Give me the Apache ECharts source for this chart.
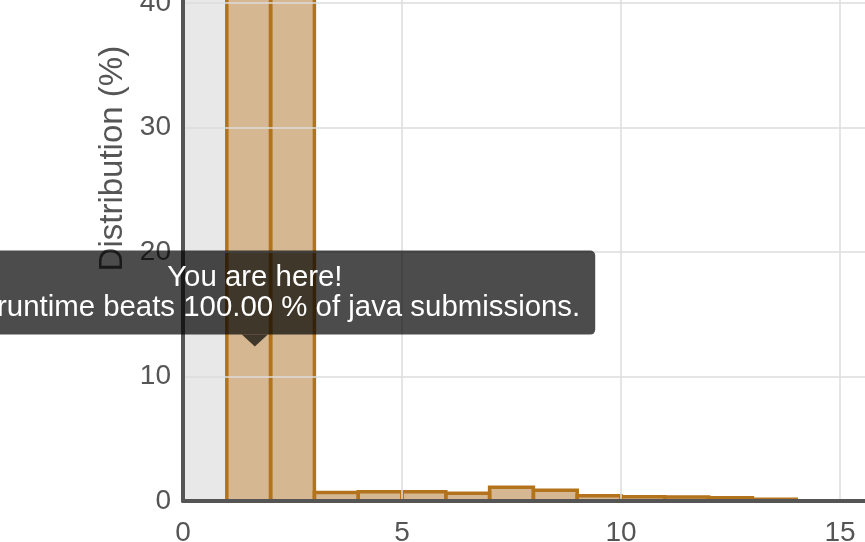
<!DOCTYPE html>
<html><head><meta charset="utf-8">
<script src="https://cdn.jsdelivr.net/npm/echarts@6/dist/echarts.min.js"></script>
<style>html,body{margin:0;padding:0;background:#fff;overflow:hidden}#c{width:865px;height:542px}</style>
</head><body><div id="c"></div>
<script>
// ---- data ----
const binStarts = [1, 2, 3, 4, 5, 6, 7, 8, 9, 10, 11, 12, 13];
const binWidth = 1;
const distribution = [52.0, 47.0, 0.68, 0.74, 0.74, 0.63, 1.1, 0.87, 0.42, 0.34, 0.33, 0.26, 0.14];
const xRange = [0, 20];
const xInterval = 5;
const yRange = [0, 55];
const yInterval = 10;
const highlightRange = [0, 1];
const youAreHere = [1.64, 12.4];
const tooltipLines = ['You are here!', 'Your runtime beats 100.00 % of java submissions.'];
const yAxisName = 'Distribution (%)';

// ---- chart ----
const FONT = '"Liberation Sans", Arial, Helvetica, sans-serif';
const chart = echarts.init(document.getElementById('c'), null, {renderer: 'canvas'});
const binData = binStarts.map((s, i) => [s, s + binWidth, distribution[i]]);

chart.setOption({
  animation: false,
  backgroundColor: '#fff',
  textStyle: {fontFamily: FONT},
  grid: {left: 183, right: -194, top: -183.75, bottom: 41, containLabel: false, outerBoundsMode: 'none'},
  xAxis: {
    type: 'value', min: xRange[0], max: xRange[1], interval: xInterval, z: 10,
    axisLine: {show: true, onZero: false, lineStyle: {color: '#555', width: 4}},
    axisTick: {show: false},
    axisLabel: {color: '#555', fontSize: 28, margin: 18, fontFamily: FONT},
    splitLine: {show: true, lineStyle: {color: '#dcdcdc', width: 1.5}}
  },
  yAxis: {
    type: 'value', min: yRange[0], max: yRange[1], interval: yInterval, z: 10,
    name: yAxisName, nameLocation: 'middle', nameGap: 50, nameRotate: 90,
    nameTextStyle: {color: '#555', fontSize: 33, fontFamily: FONT},
    axisLine: {show: true, lineStyle: {color: '#555', width: 4}},
    axisTick: {show: false},
    axisLabel: {color: '#555', fontSize: 28, margin: 12, fontFamily: FONT},
    splitLine: {show: true, lineStyle: {color: '#dcdcdc', width: 1.5}}
  },
  series: [
    {
      type: 'custom', z: 2, clip: true,
      data: binData,
      renderItem: function (params, api) {
        const p0 = api.coord([api.value(0), api.value(2)]);
        const p1 = api.coord([api.value(1), 0]);
        return {
          type: 'rect',
          shape: {x: p0[0], y: p0[1], width: p1[0] - p0[0], height: p1[1] - p0[1]},
          style: {fill: 'rgba(172,112,36,0.5)', stroke: '#b3731c', lineWidth: 3.5}
        };
      },
      markArea: {
        silent: true,
        itemStyle: {color: 'rgba(0,0,0,0.09)'},
        data: [[{xAxis: highlightRange[0]}, {xAxis: highlightRange[1]}]]
      }
    },
    {
      type: 'scatter', z: 30, clip: false, silent: true,
      data: [youAreHere],
      symbol: 'triangle', symbolRotate: 180, symbolSize: [26, 12], symbolOffset: [0, -6],
      itemStyle: {color: 'rgba(0,0,0,0.7)', opacity: 1},
      label: {
        show: true, position: 'top', distance: 0,
        formatter: tooltipLines.join('\n'),
        color: '#fff', fontSize: 29.4, lineHeight: 30, fontFamily: FONT,
        align: 'center',
        backgroundColor: 'rgba(0,0,0,0.7)', borderRadius: 5, padding: [12, 15]
      }
    }
  ]
});
</script>
</body></html>
